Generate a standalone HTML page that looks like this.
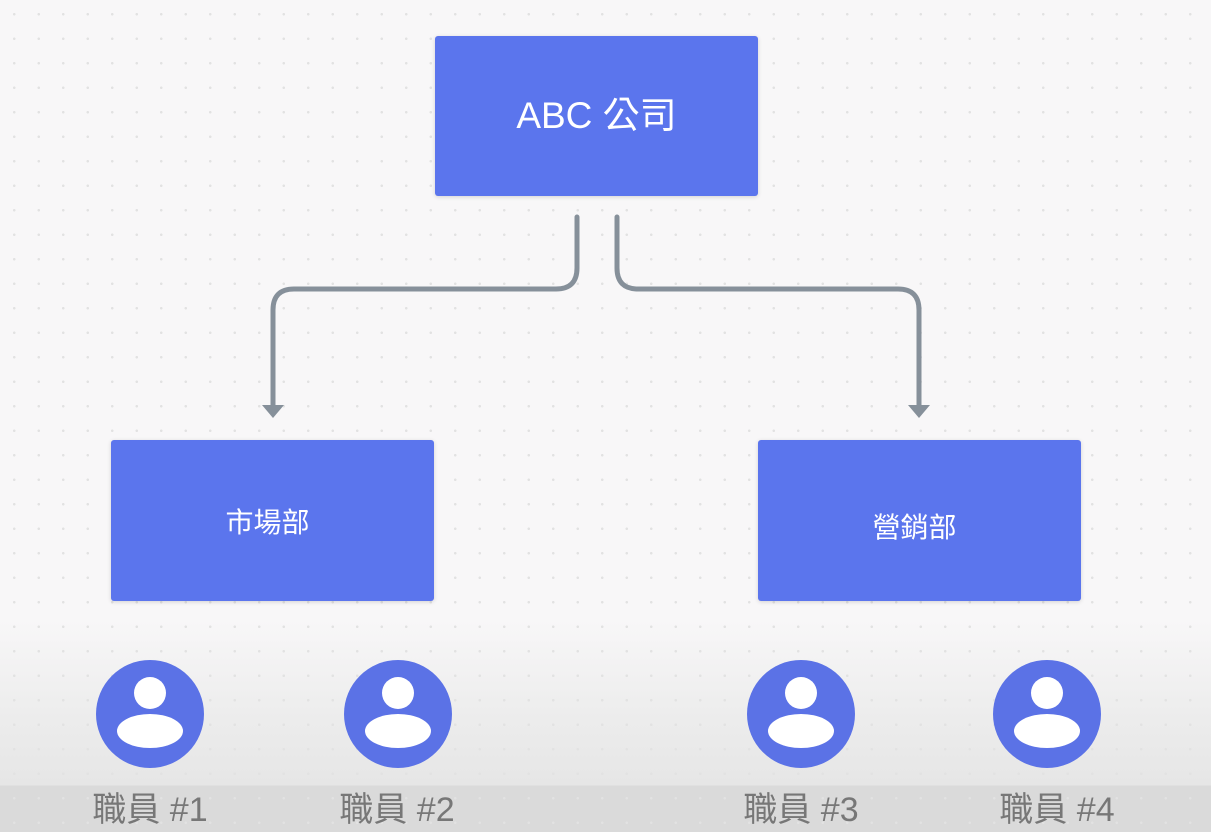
<!DOCTYPE html>
<html><head><meta charset="utf-8"><style>
html,body{margin:0;padding:0}
body{width:1211px;height:832px;overflow:hidden;position:relative;font-family:"Liberation Sans","Noto Sans CJK TC",sans-serif;
background:linear-gradient(to bottom,#f8f7f8 0,#f8f7f8 620px,#ececec 720px,#e6e6e6 785px,#dadada 786px,#dadada 832px);}
.dots{position:absolute;inset:0;background-image:radial-gradient(circle,#e2e2e2 1.1px,transparent 1.5px);background-size:24.5px 24.5px;background-position:2px 2px}
.box{position:absolute;background:#5b75ed;border-radius:3px;color:#fff;display:flex;align-items:center;justify-content:center;box-shadow:0 1px 4px rgba(0,0,0,.15)}
.lbl{position:absolute;top:782px;color:#777;font-size:34px;width:200px;text-align:center}
</style></head><body>
<div class="dots"></div>
<svg width="1211" height="832" style="position:absolute;left:0;top:0">
<g fill="none" stroke="#86909a" stroke-width="5" stroke-linecap="round">
<path d="M577 217 V268 Q577 289 556 289 H294 Q273 289 273 310 V406"/>
<path d="M617 217 V268 Q617 289 638 289 H898 Q919 289 919 310 V406"/>
</g>
<path d="M262 405 H284 L273 418 Z" fill="#86909a"/>
<path d="M908 405 H930 L919 418 Z" fill="#86909a"/>
<g fill="#5b72e6">
<circle cx="150" cy="714" r="54"/><circle cx="398" cy="714" r="54"/><circle cx="801" cy="714" r="54"/><circle cx="1047" cy="714" r="54"/>
</g>
<g fill="#fff">
<circle cx="150" cy="693" r="16"/><ellipse cx="150" cy="731" rx="33" ry="17"/>
<circle cx="398" cy="693" r="16"/><ellipse cx="398" cy="731" rx="33" ry="17"/>
<circle cx="801" cy="693" r="16"/><ellipse cx="801" cy="731" rx="33" ry="17"/>
<circle cx="1047" cy="693" r="16"/><ellipse cx="1047" cy="731" rx="33" ry="17"/>
</g>
</svg>
<div class="box" style="left:435px;top:36px;width:323px;height:160px;font-size:37px;padding-bottom:8px;box-sizing:border-box">ABC 公司</div>
<div class="box" style="left:111px;top:440px;width:323px;height:161px;font-size:28px;padding-right:10px;box-sizing:border-box">市場部</div>
<div class="box" style="left:758px;top:440px;width:323px;height:161px;font-size:28px;padding-right:10px;padding-top:10px;box-sizing:border-box">營銷部</div>
<div class="lbl" style="left:50px">職員 #1</div>
<div class="lbl" style="left:297px">職員 #2</div>
<div class="lbl" style="left:701px">職員 #3</div>
<div class="lbl" style="left:957px">職員 #4</div>
</body></html>
